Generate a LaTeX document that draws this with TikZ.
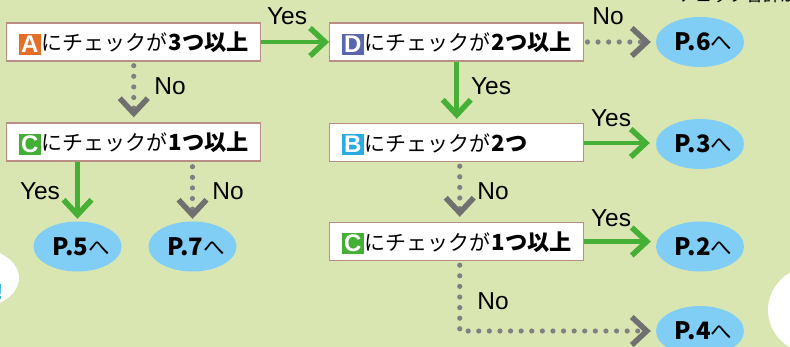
\documentclass[tikz,border=0pt]{standalone}
\usepackage{fontspec}
\usetikzlibrary{arrows.meta,shapes.geometric,calc}
\setmainfont{Liberation Sans}
\newfontfamily\cjk{Noto Sans CJK JP}[BoldFont={Noto Sans CJK JP Black}]
\definecolor{bgc}{HTML}{D9E6B2}
\definecolor{edgec}{HTML}{B98F85}
\definecolor{skyc}{HTML}{80CEF6}
\definecolor{greenc}{HTML}{45B035}
\definecolor{dotc}{HTML}{808080}
\definecolor{chevc}{HTML}{707070}
\definecolor{orangeb}{HTML}{E56F28}
\definecolor{greenb}{HTML}{43B035}
\definecolor{indigob}{HTML}{5B66B0}
\definecolor{cyanb}{HTML}{2AACE2}
\newcommand{\badge}[2]{{\setlength{\fboxsep}{0pt}\raisebox{-1.5pt}{\colorbox{#1}{\makebox[22pt]{\rule[-2.5pt]{0pt}{21pt}\fontsize{24}{24}\selectfont\bfseries\color{white}\rmfamily #2}}}}\hspace{1pt}}
\newcommand{\chk}[3]{\mbox{\badge{#1}{#2}{\fontsize{21}{24}\selectfont\cjk にチェックが\hspace{1pt}{\fontsize{22.2}{24}\selectfont\textbf{#3}}}}}
\newcommand{\dst}[1]{\makebox[50pt][c]{\hspace{7pt}{\fontsize{24}{26}\selectfont #1}{\fontsize{21.5}{26}\selectfont\mdseries へ}}}
\tikzset{
  x=1pt,y=-1pt,
  condbox/.style={draw=edgec,line width=1.4pt,fill=white,minimum height=38pt,text width=230pt,inner xsep=12pt,inner ysep=0pt,align=left,text height=19pt,text depth=1pt,anchor=center},
  dest/.style={ellipse,fill=skyc,minimum width=88pt,minimum height=50pt,inner sep=0pt,font=\cjk\bfseries},
  lab/.style={font=\fontsize{24.5}{26}\selectfont,inner sep=0pt,text=black},
  yesline/.style={draw=greenc,line width=4.6pt,-{Straight Barb[length=15pt,width=28pt,line width=5.5pt]}},
  noline/.style={draw=dotc,line width=5.2pt,line cap=round,dash pattern=on 0pt off 10.6pt,-{Straight Barb[length=15pt,width=28pt,line width=5.5pt,color=chevc,line cap=butt]}},
}
\begin{document}
\begin{tikzpicture}
\clip (0,0) rectangle (790,347);
\fill[bgc] (0,0) rectangle (790,347);
\fill[white] (-25,278) ellipse [x radius=44, y radius=30];
\fill[white] (812,310) ellipse [x radius=44, y radius=43];
\node[anchor=east,inner sep=0pt,text=cyanb,font=\fontsize{22}{24}\selectfont\bfseries] (excl) at (3.5,292) {!};
\node[anchor=west,inner sep=0pt,font=\fontsize{17}{18}\selectfont\cjk] (note) at (678,-5) {チェック合計が};

\node[condbox] (A) at (133.75,42) {\chk{orangeb}{A}{3つ以上}};
\node[condbox] (C) at (133.75,142) {\chk{greenb}{C}{1つ以上}};
\node[condbox] (D) at (456.75,42) {\chk{indigob}{D}{2つ以上}};
\node[condbox] (B) at (456.75,142.5) {\chk{cyanb}{B}{2つ}};
\node[condbox] (C2) at (456.75,241.5) {\chk{greenb}{C}{1つ以上}};

\node[dest] (P5) at (77.5,246.5) {\dst{P.5}};
\node[dest] (P7) at (192.5,246.5) {\dst{P.7}};
\node[dest] (P6) at (700,42) {\dst{P.6}};
\node[dest] (P3) at (700,144) {\dst{P.3}};
\node[dest] (P2) at (700,246.5) {\dst{P.2}};
\node[dest] (P4) at (700,331) {\dst{P.4}};

\coordinate (c4) at ($(C2.south)+(3,0)$);
\coordinate (c4b) at (c4 |- P4.west);

\draw[yesline] (A.east) -- (D.west);
\draw[noline,shorten <=4pt,shorten >=5pt] (A.south) -- (C.north);
\draw[yesline,shorten >=2.5pt] (P5.north |- C.south) -- (P5.north);
\draw[noline,shorten <=5pt,shorten >=2.5pt] (P7.north |- C.south) -- (P7.north);
\draw[noline,shorten <=3pt,shorten >=5pt] (D.east) -- (P6.west);
\draw[yesline,shorten >=4pt] (D.south) -- (B.north);
\draw[yesline,shorten >=6pt] (B.east |- P3.west) ++(0,-1) -- ($(P3.west)+(0,-1)$);
\draw[noline,shorten <=4pt,shorten >=5pt] ($(B.south)+(3,0)$) -- ($(C2.north)+(3,0)$);
\draw[yesline,shorten >=5pt] (C2.east) -- (P2.west |- C2.east);
\draw[noline,shorten <=4pt,shorten >=5pt] (c4) -- (c4b) -- (P4.west);

\node[lab] (l1) at (287,16) {Yes};
\node[lab] (l2) at (170,86) {No};
\node[lab] (l3) at (40,191) {Yes};
\node[lab] (l4) at (228,191) {No};
\node[lab] (l5) at (608,16) {No};
\node[lab] (l6) at (491,86) {Yes};
\node[lab] (l7) at (611,118) {Yes};
\node[lab] (l8) at (493,191) {No};
\node[lab] (l9) at (611,218) {Yes};
\node[lab] (l10) at (493,301) {No};
\end{tikzpicture}
\end{document}
